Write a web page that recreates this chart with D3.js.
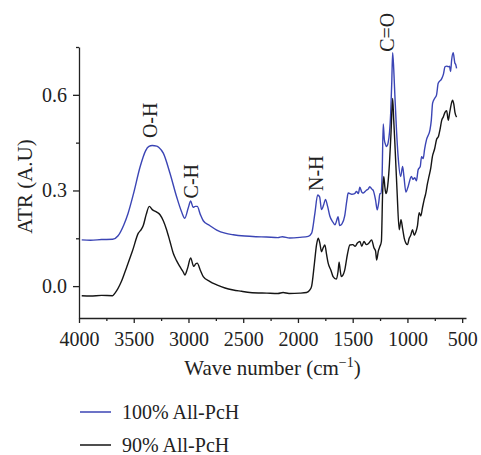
<!DOCTYPE html>
<html>
<head>
<meta charset="utf-8">
<script src="https://cdn.jsdelivr.net/npm/d3@7"></script>
<style>
  body { margin: 0; background: #fff; }
  text { font-family: "Liberation Serif", "DejaVu Serif", serif; fill: #222; }
</style>
</head>
<body>
<svg id="chart" width="481" height="455"></svg>
<script>
// wave number (cm-1), ATR (A.U)
var pch100 = [
  [3975,0.145],[3895,0.144],[3794,0.146],[3693,0.147],[3643,0.158],[3591,0.192],[3552,0.228],[3502,0.29],
  [3441,0.375],[3391,0.425],[3361,0.438],[3331,0.441],[3290,0.439],[3270,0.435],[3230,0.417],[3169,0.354],
  [3109,0.281],[3064,0.234],[3034,0.213],[3003,0.244],[2980,0.267],[2958,0.247],[2938,0.25],[2920,0.25],
  [2892,0.225],[2865,0.205],[2807,0.19],[2742,0.176],[2666,0.166],[2591,0.161],[2485,0.157],[2384,0.155],
  [2287,0.154],[2183,0.152],[2143,0.155],[2075,0.151],[1981,0.153],[1906,0.156],[1875,0.166],[1845,0.229],
  [1820,0.286],[1802,0.28],[1785,0.24],[1765,0.255],[1749,0.272],[1729,0.25],[1709,0.22],[1679,0.2],
  [1662,0.192],[1647,0.205],[1634,0.218],[1619,0.19],[1598,0.195],[1573,0.22],[1553,0.27],[1541,0.292],
  [1508,0.288],[1483,0.29],[1465,0.297],[1448,0.29],[1435,0.31],[1417,0.295],[1404,0.292],[1377,0.3],
  [1357,0.305],[1344,0.312],[1327,0.305],[1312,0.3],[1291,0.27],[1276,0.239],[1261,0.265],[1252,0.29],
  [1241,0.29],[1231,0.35],[1221,0.509],[1211,0.46],[1201,0.445],[1191,0.438],[1176,0.45],[1153,0.542],
  [1143,0.64],[1135,0.732],[1125,0.68],[1115,0.6],[1100,0.49],[1085,0.406],[1062,0.344],[1044,0.375],
  [1032,0.344],[1014,0.295],[994,0.312],[964,0.344],[949,0.335],[933,0.34],[918,0.33],[902,0.365],
  [883,0.375],[871,0.406],[856,0.4],[843,0.43],[825,0.46],[794,0.49],[782,0.52],[770,0.574],
  [749,0.59],[734,0.6],[719,0.636],[688,0.65],[671,0.665],[657,0.688],[641,0.69],[627,0.688],
  [616,0.69],[606,0.673],[596,0.71],[582,0.732],[567,0.7],[559,0.695],[551,0.683]
];

var pch90 = [
  [3975,-0.03],[3895,-0.031],[3794,-0.029],[3693,-0.03],[3671,-0.022],[3612,0.015],[3563,0.061],[3512,0.11],
  [3458,0.166],[3431,0.178],[3413,0.19],[3386,0.225],[3358,0.25],[3331,0.24],[3290,0.232],[3260,0.224],
  [3230,0.205],[3200,0.177],[3169,0.14],[3139,0.103],[3109,0.08],[3078,0.061],[3049,0.045],[3033,0.035],
  [3009,0.055],[2980,0.088],[2953,0.062],[2933,0.07],[2920,0.072],[2892,0.05],[2865,0.03],[2807,0.015],
  [2742,0.004],[2666,-0.006],[2591,-0.012],[2515,-0.016],[2439,-0.02],[2283,-0.022],[2183,-0.023],[2136,-0.02],
  [2082,-0.023],[1981,-0.022],[1921,-0.02],[1891,-0.012],[1875,0],[1850,0.07],[1830,0.13],[1815,0.15],
  [1800,0.135],[1785,0.108],[1770,0.12],[1754,0.129],[1739,0.1],[1724,0.072],[1699,0.05],[1679,0.03],
  [1649,0.022],[1634,0.045],[1624,0.075],[1614,0.05],[1604,0.03],[1588,0.035],[1573,0.05],[1548,0.1],
  [1526,0.129],[1498,0.13],[1478,0.125],[1457,0.135],[1434,0.14],[1417,0.125],[1397,0.14],[1374,0.13],
  [1352,0.135],[1327,0.145],[1306,0.12],[1291,0.11],[1281,0.082],[1266,0.11],[1252,0.124],[1238,0.14],
  [1226,0.3],[1216,0.344],[1206,0.31],[1196,0.29],[1186,0.3],[1165,0.38],[1150,0.48],[1135,0.589],
  [1125,0.52],[1115,0.45],[1095,0.3],[1075,0.177],[1059,0.208],[1044,0.18],[1029,0.15],[1014,0.135],
  [999,0.13],[984,0.15],[969,0.16],[954,0.177],[938,0.16],[923,0.17],[908,0.19],[893,0.23],
  [878,0.22],[863,0.245],[848,0.27],[833,0.29],[818,0.32],[803,0.344],[787,0.37],[772,0.406],
  [752,0.43],[734,0.46],[716,0.47],[703,0.49],[687,0.52],[673,0.53],[657,0.545],[642,0.55],
  [627,0.52],[616,0.54],[606,0.56],[588,0.583],[576,0.57],[566,0.545],[551,0.53]
];

var seriesNames = ["100% All-PcH", "90% All-PcH"];
var seriesColors = ["#3b45b5", "#151515"];
var xTicks = [4000, 3500, 3000, 2500, 2000, 1500, 1000, 500];
var xMinorTicks = [3750, 3250, 2750, 2250, 1750, 1250, 750];
var yTicks = [0.0, 0.3, 0.6];
var yMinorTicks = [0.15, 0.45, 0.75];
var peakLabels = [
  {text: "O-H", wave: 3352, atr: 0.52},
  {text: "C-H", wave: 2973, atr: 0.329},
  {text: "N-H", wave: 1839, atr: 0.354},
  {text: "C=O", wave: 1188, atr: 0.796}
];

var svg = d3.select("#chart");
var margin = {top: 47, right: 15, bottom: 137, left: 79};
var width = 481 - margin.left - margin.right;
var height = 455 - margin.top - margin.bottom;

var xScale = d3.scaleLinear().domain([4000, 465]).range([0, width]);
var yScale = d3.scaleLinear().domain([-0.1, 0.75]).range([height, 0]);

var canvas = svg.append("g")
  .attr("transform", "translate(" + margin.left + "," + margin.top + ")");

// Axes
canvas.append("g")
  .attr("transform", "translate(0," + height + ")")
  .call(d3.axisBottom(xScale).tickValues(xTicks).tickSize(5).tickSizeOuter(0).tickPadding(9).tickFormat(d3.format("d")));
canvas.append("g")
  .attr("transform", "translate(0," + height + ")")
  .call(d3.axisBottom(xScale).tickValues(xMinorTicks).tickSize(3).tickFormat(""))
  .select(".domain").remove();

canvas.append("g")
  .call(d3.axisLeft(yScale).tickValues(yTicks).tickSize(6).tickSizeOuter(0).tickPadding(6).tickFormat(d3.format(".1f")));
canvas.append("g")
  .call(d3.axisLeft(yScale).tickValues(yMinorTicks).tickSize(3).tickFormat(""))
  .select(".domain").remove();

canvas.selectAll(".domain, .tick line").attr("stroke", "#222").attr("stroke-width", 1.3);
canvas.selectAll(".tick text")
  .attr("font-family", "Liberation Serif, serif")
  .attr("font-size", 20)
  .attr("fill", "#222");

// Axis titles
var xTitle = canvas.append("text")
  .attr("x", width / 2)
  .attr("y", height + 57)
  .attr("text-anchor", "middle")
  .attr("font-size", 21);
xTitle.append("tspan").text("Wave number (cm");
xTitle.append("tspan").attr("font-size", 14).attr("dy", -8).text("\u22121");
xTitle.append("tspan").attr("dy", 8).text(")");

canvas.append("text")
  .attr("transform", "translate(" + (-54) + "," + (height / 2 + 4) + ") rotate(-90)")
  .attr("text-anchor", "middle")
  .attr("dy", "0.35em")
  .attr("font-size", 21)
  .text("ATR (A.U)");

// Spectra
var line = d3.line()
  .x(d => xScale(d[0]))
  .y(d => yScale(d[1]))
  .curve(d3.curveMonotoneX);

canvas.selectAll(".spectrum").data([pch100, pch90]).enter().append("path")
  .attr("class", "spectrum")
  .attr("d", line)
  .attr("fill", "none")
  .attr("stroke", (d, i) => seriesColors[i])
  .attr("stroke-width", 1.4)
  .attr("stroke-linejoin", "round");

// Peak labels
canvas.selectAll(".peak").data(peakLabels).enter().append("text")
  .attr("class", "peak")
  .attr("transform", d => "translate(" + xScale(d.wave) + "," + yScale(d.atr) + ") rotate(-90)")
  .attr("text-anchor", "middle")
  .attr("dy", "0.35em")
  .attr("font-size", 20)
  .text(d => d.text);

// Legend
var legend = svg.append("g").attr("transform", "translate(80,412)");
var items = legend.selectAll("g").data(seriesNames).enter().append("g")
  .attr("transform", (d, i) => "translate(0," + (i * 33) + ")");
items.append("line")
  .attr("x1", 0).attr("x2", 31)
  .attr("stroke", (d, i) => seriesColors[i])
  .attr("stroke-width", 1.5);
items.append("text")
  .attr("x", 42)
  .attr("dy", "0.35em")
  .attr("font-size", 20)
  .text(d => d);
</script>
</body>
</html>
